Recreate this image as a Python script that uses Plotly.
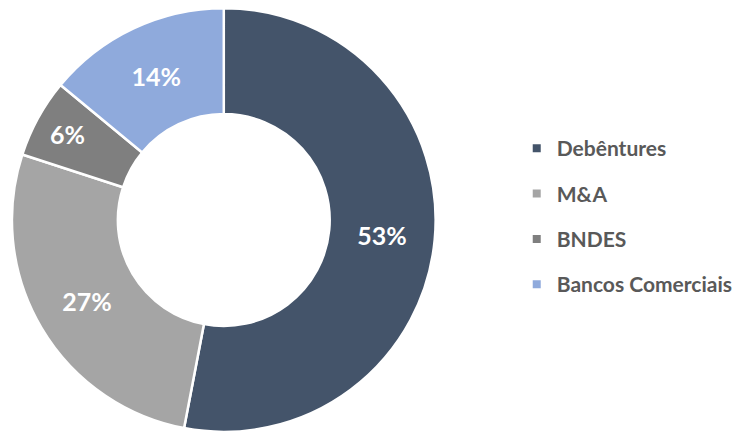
import plotly.graph_objects as go

labels = ["Debêntures", "M&A", "BNDES", "Bancos Comerciais"]
values = [53, 27, 6, 14]
colors = ["#44546A", "#A5A5A5", "#7F7F7F", "#8FAADC"]

W, H = 738, 435
fig = go.Figure()
fig.add_trace(go.Pie(
    labels=labels, values=values, hole=0.5, sort=False, direction="clockwise",
    rotation=0, marker=dict(colors=colors, line=dict(color="white", width=2.5)),
    textinfo="percent", texttemplate="%{percent:.0%}", textposition="inside",
    insidetextorientation="horizontal",
    textfont=dict(family="Lato", size=25, color="white", weight="bold"),
    showlegend=False, hoverinfo="label+percent",
    domain=dict(x=[12 / W, 438 / W], y=[2 / H, 428 / H]),
))
for lab, col in zip(labels, colors):
    fig.add_trace(go.Scatter(
        x=[None], y=[None], mode="markers", name=lab, legendgroup=lab,
        marker=dict(symbol="square", size=8, color=col),
    ))
fig.update_layout(
    width=W, height=H, margin=dict(l=0, r=0, t=0, b=0),
    paper_bgcolor="white", plot_bgcolor="white",
    xaxis=dict(visible=False), yaxis=dict(visible=False),
    legend=dict(x=0.704, xanchor="left", y=0.502, yanchor="middle",
                font=dict(family="Lato", size=21, color="#595959", weight="bold"),
                tracegroupgap=15, itemclick=False),
)
fig.write_html("out.html", config={"displayModeBar": False},
               post_script="document.body.style.margin='0';")
